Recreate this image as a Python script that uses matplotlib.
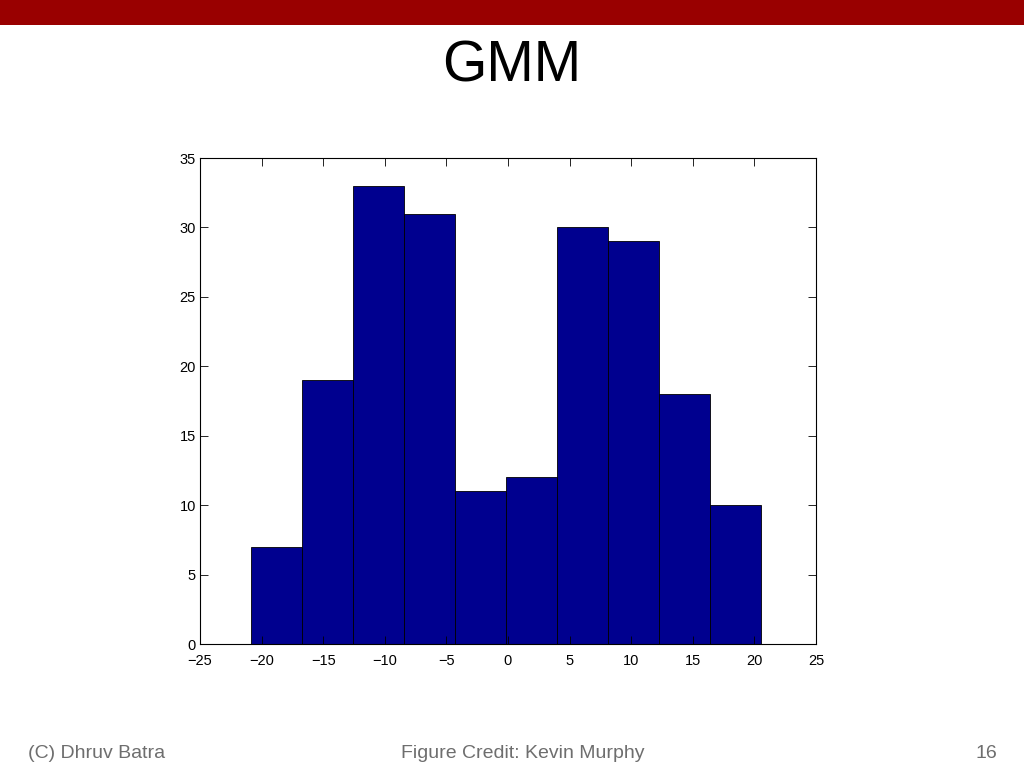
import matplotlib
matplotlib.use("Agg")
import matplotlib.pyplot as plt
from matplotlib.patches import Rectangle
import numpy as np

bin_left = [-20.86, -16.72, -12.58, -8.44, -4.30, -0.16, 3.98, 8.12, 12.26, 16.40]
bin_width = 4.14
counts = [7, 19, 33, 31, 11, 12, 30, 29, 18, 10]
xticks = [-25, -20, -15, -10, -5, 0, 5, 10, 15, 20, 25]
yticks = [0, 5, 10, 15, 20, 25, 30, 35]

plt.rcParams['font.family'] = ['Liberation Sans', 'DejaVu Sans']

fig = plt.figure(figsize=(10.24, 7.68), dpi=100)
fig.patch.set_facecolor('white')
fig.patches.append(Rectangle((0, 1 - 25 / 768), 1, 25 / 768, transform=fig.transFigure,
                             facecolor='#990000', edgecolor='none', zorder=0))

fig.text(0.5, 1 - 66 / 768, "GMM", ha='center', va='center', fontsize=41, color='black')
fig.text(28 / 1024, 1 - 754 / 768, "(C) Dhruv Batra", ha='left', va='center', fontsize=14, color='#6e6e6e')
fig.text(523 / 1024, 1 - 754 / 768, "Figure Credit: Kevin Murphy", ha='center', va='center', fontsize=14, color='#6e6e6e')
fig.text(997 / 1024, 1 - 754 / 768, "16", ha='right', va='center', fontsize=14, color='#6e6e6e')

ax = fig.add_axes([200 / 1024, 1 - 644 / 768, 616 / 1024, 486 / 768])
ax.bar(bin_left, counts, width=bin_width, align='edge', color='#00008F', edgecolor='black', linewidth=0.6)
ax.set_xlim(-25, 25)
ax.set_ylim(0, 35)
ax.set_xticks(xticks)
ax.set_yticks(yticks)
ax.set_xticklabels([str(t).replace('-', '\u2212') for t in xticks])
ax.tick_params(direction='in', top=True, right=True, length=6, width=0.6, labelsize=10.5)
ax.tick_params(axis='x', pad=7)
ax.tick_params(axis='y', pad=3)
for s in ax.spines.values():
    s.set_linewidth(0.8)

fig.savefig("out.png", dpi=100)
